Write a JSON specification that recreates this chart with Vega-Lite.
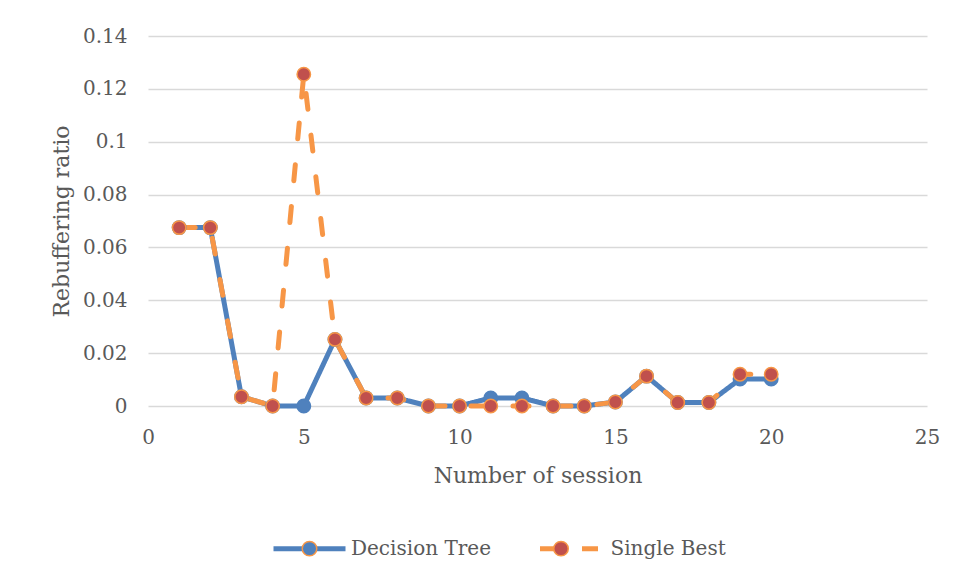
{
  "$schema": "https://vega.github.io/schema/vega-lite/v6.json",
  "autosize": {"type": "none"},
  "width": 779,
  "height": 370,
  "padding": {"left": 148, "top": 36, "right": 29, "bottom": 172},
  "background": "white",
  "config": {
    "font": "DejaVu Serif",
    "view": {"stroke": null},
    "axis": {
      "labelFont": "DejaVu Serif",
      "titleFont": "DejaVu Serif",
      "labelColor": "#595959",
      "titleColor": "#595959",
      "labelFontSize": 20,
      "titleFontSize": 22,
      "titleFontWeight": "normal",
      "domain": false,
      "ticks": false,
      "gridColor": "#D9D9D9",
      "gridWidth": 1.5
    }
  },
  "data": {
    "values": [
      {"session": 1, "ratio": 0.0675, "series": "Decision Tree"},
      {"session": 2, "ratio": 0.0675, "series": "Decision Tree"},
      {"session": 3, "ratio": 0.0035, "series": "Decision Tree"},
      {"session": 4, "ratio": 0.0, "series": "Decision Tree"},
      {"session": 5, "ratio": 0.0, "series": "Decision Tree"},
      {"session": 6, "ratio": 0.0252, "series": "Decision Tree"},
      {"session": 7, "ratio": 0.003, "series": "Decision Tree"},
      {"session": 8, "ratio": 0.003, "series": "Decision Tree"},
      {"session": 9, "ratio": 0.0, "series": "Decision Tree"},
      {"session": 10, "ratio": 0.0, "series": "Decision Tree"},
      {"session": 11, "ratio": 0.003, "series": "Decision Tree"},
      {"session": 12, "ratio": 0.003, "series": "Decision Tree"},
      {"session": 13, "ratio": 0.0, "series": "Decision Tree"},
      {"session": 14, "ratio": 0.0, "series": "Decision Tree"},
      {"session": 15, "ratio": 0.0015, "series": "Decision Tree"},
      {"session": 16, "ratio": 0.0113, "series": "Decision Tree"},
      {"session": 17, "ratio": 0.0013, "series": "Decision Tree"},
      {"session": 18, "ratio": 0.0013, "series": "Decision Tree"},
      {"session": 19, "ratio": 0.0102, "series": "Decision Tree"},
      {"session": 20, "ratio": 0.0102, "series": "Decision Tree"},
      {"session": 1, "ratio": 0.0675, "series": "Single Best"},
      {"session": 2, "ratio": 0.0675, "series": "Single Best"},
      {"session": 3, "ratio": 0.0035, "series": "Single Best"},
      {"session": 4, "ratio": 0.0, "series": "Single Best"},
      {"session": 5, "ratio": 0.1255, "series": "Single Best"},
      {"session": 6, "ratio": 0.0252, "series": "Single Best"},
      {"session": 7, "ratio": 0.003, "series": "Single Best"},
      {"session": 8, "ratio": 0.003, "series": "Single Best"},
      {"session": 9, "ratio": 0.0, "series": "Single Best"},
      {"session": 10, "ratio": 0.0, "series": "Single Best"},
      {"session": 11, "ratio": 0.0, "series": "Single Best"},
      {"session": 12, "ratio": 0.0, "series": "Single Best"},
      {"session": 13, "ratio": 0.0, "series": "Single Best"},
      {"session": 14, "ratio": 0.0, "series": "Single Best"},
      {"session": 15, "ratio": 0.0015, "series": "Single Best"},
      {"session": 16, "ratio": 0.0113, "series": "Single Best"},
      {"session": 17, "ratio": 0.0013, "series": "Single Best"},
      {"session": 18, "ratio": 0.0013, "series": "Single Best"},
      {"session": 19, "ratio": 0.012, "series": "Single Best"},
      {"session": 20, "ratio": 0.012, "series": "Single Best"}
    ]
  },
  "encoding": {
    "x": {
      "field": "session",
      "type": "quantitative",
      "scale": {"domain": [0, 25], "nice": false},
      "axis": {"values": [0, 5, 10, 15, 20, 25], "format": "d", "grid": false, "labelFlush": false, "labelPadding": 21, "title": "Number of session", "titlePadding": 18}
    },
    "y": {
      "field": "ratio",
      "type": "quantitative",
      "scale": {"domain": [0, 0.14], "nice": false},
      "axis": {"values": [0, 0.02, 0.04, 0.06, 0.08, 0.1, 0.12, 0.14], "format": "~f", "labelPadding": 21, "title": "Rebuffering ratio", "titleX": -87, "titleY": 185, "titleBaseline": "middle", "titleAlign": "center", "titleAngle": 270}
    }
  },
  "layer": [
    {
      "mark": {"type": "line", "strokeWidth": 5, "strokeCap": "round", "strokeJoin": "round"},
      "encoding": {
        "stroke": {
          "field": "series", "type": "nominal",
          "scale": {"domain": ["Decision Tree", "Single Best"], "range": ["#4F81BD", "#F79646"]},
          "legend": {"orient": "none", "legendX": 123, "legendY": 474, "direction": "horizontal", "title": null, "symbolType": "stroke", "symbolSize": 5184, "symbolStrokeWidth": 5, "symbolDashOffset": 35, "labelFont": "DejaVu Serif", "labelFontSize": 20, "labelColor": "#595959", "labelOffset": 3, "columnPadding": 31.5, "labelLimit": 400}
        },
        "strokeDash": {
          "field": "series", "type": "nominal",
          "scale": {"domain": ["Decision Tree", "Single Best"], "range": [[1, 0], [16, 26]]},
          "legend": {"orient": "none", "legendX": 123, "legendY": 474, "direction": "horizontal", "title": null, "symbolType": "stroke", "symbolSize": 5184, "symbolStrokeWidth": 5, "symbolDashOffset": 35, "labelFont": "DejaVu Serif", "labelFontSize": 20, "labelColor": "#595959", "labelOffset": 3, "columnPadding": 31.5, "labelLimit": 400}
        }
      }
    },
    {
      "transform": [{"filter": "datum.ratio != null"}],
      "mark": {"type": "point", "filled": true, "size": 180, "strokeWidth": 1.5, "opacity": 1},
      "encoding": {
        "fill": {
          "field": "series", "type": "nominal",
          "scale": {"range": ["#4F81BD", "#C0504D"]},
          "legend": {"orient": "none", "legendX": 123, "legendY": 474, "direction": "horizontal", "title": null, "symbolType": "M-0.192,0A0.192,0.192 0 1,1 0.192,0A0.192,0.192 0 1,1 -0.192,0Z", "symbolSize": 5700, "symbolStrokeWidth": 1.5, "symbolStrokeColor": "#F79646", "symbolOpacity": 1, "labelFont": "DejaVu Serif", "labelFontSize": 20, "labelColor": "#595959", "labelOpacity": 0, "labelOffset": 3, "columnPadding": 31.5, "labelLimit": 400}
        },
        "stroke": {"condition": {"test": "datum.series === 'Single Best'", "value": "#F79646"}, "value": "#4F81BD"}
      }
    }
  ]
}
